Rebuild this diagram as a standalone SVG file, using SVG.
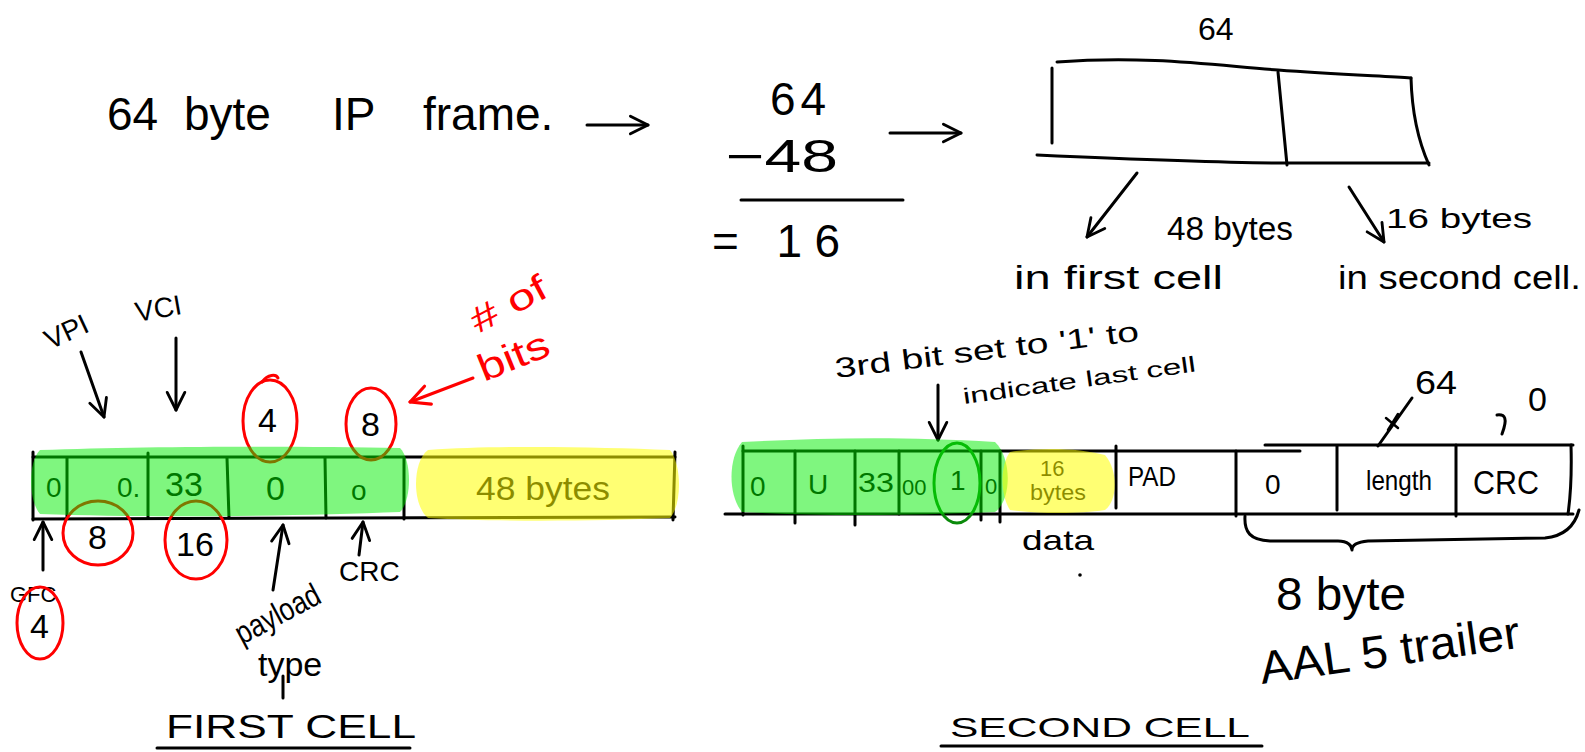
<svg xmlns="http://www.w3.org/2000/svg" width="1585" height="752" viewBox="0 0 1585 752">
<defs>
<style>
text{font-family:"Liberation Sans",Arial,sans-serif;fill:#000}
.ink{fill:none;stroke:#000;stroke-width:3;stroke-linecap:round;stroke-linejoin:round}
.thin{fill:none;stroke:#000;stroke-width:2.5;stroke-linecap:round}
.red{fill:none;stroke:#f00;stroke-width:3;stroke-linecap:round}
.redt{fill:#f00}
.grn{fill:none;stroke:#0a8a0a;stroke-width:3}
.hg{fill:#00ee00;opacity:0.5}
.hy{fill:#ffff00;opacity:0.55}
.h1{font-size:46px}
.h2{font-size:34px}
.h3{font-size:28px}
.h4{font-size:22px}
</style>
<marker id="ah" viewBox="0 0 20 20" refX="18" refY="10" markerWidth="22" markerHeight="22" orient="auto" markerUnits="userSpaceOnUse"><path d="M2,2 L18,10 L2,18" fill="none" stroke="#000" stroke-width="2.6" stroke-linecap="round" stroke-linejoin="round"/></marker>
<marker id="ahr" viewBox="0 0 20 20" refX="18" refY="10" markerWidth="24" markerHeight="24" orient="auto" markerUnits="userSpaceOnUse"><path d="M2,2 L18,10 L2,18" fill="none" stroke="#f00" stroke-width="2.6" stroke-linecap="round" stroke-linejoin="round"/></marker>
</defs>
<rect width="1585" height="752" fill="#fff"/>

<!-- Top: IP frame split -->
<g id="ip-frame">
<text class="h1" y="130"><tspan x="107">64</tspan><tspan x="184">byte</tspan><tspan x="332">IP</tspan><tspan x="423">frame.</tspan></text>
</g>
<g id="calc">
<text class="h1" x="770" y="115" textLength="56">64</text>
<text class="h1" x="726" y="172" textLength="112" lengthAdjust="spacingAndGlyphs">−48</text>
<path class="ink" d="M741,200 L903,200"/>
<text class="h1" x="712" y="257" textLength="128">= 16</text>
</g>
<g id="frame-box">
<text font-size="32" x="1198" y="40">64</text>
<path class="ink" d="M1057,62 C1150,55 1220,66 1278,70 C1330,74 1380,76 1411,78"/>
<path class="ink" d="M1052,68 L1052,143"/>
<path class="ink" d="M1037,155 C1150,160 1230,163 1286,163 L1429,163"/>
<path class="ink" d="M1278,72 L1287,165"/>
<path class="ink" d="M1411,78 C1412,115 1420,145 1429,165"/>
<text class="h2" x="1167" y="240" textLength="126" lengthAdjust="spacingAndGlyphs">48 bytes</text>
<text class="h3" x="1386" y="228" textLength="146" lengthAdjust="spacingAndGlyphs">16 bytes</text>
<text class="h2" x="1014" y="289" textLength="209" lengthAdjust="spacingAndGlyphs">in first cell</text>
<text class="h2" x="1338" y="289" textLength="243" lengthAdjust="spacingAndGlyphs">in second cell.</text>
</g>

<!-- First cell -->
<g id="first-cell">
<path class="ink" d="M33,457 L675,457"/>
<path class="ink" d="M33,519 L675,517"/>
<path class="ink" d="M33,452 L33,520"/>
<path class="ink" d="M675,452 L673,520"/>
<path class="ink" d="M67,458 L67,518"/>
<path class="ink" d="M148,453 L148,518"/>
<path class="ink" d="M227,458 L229,518"/>
<path class="ink" d="M325,458 L326,518"/>
<path class="ink" d="M404,458 L404,519"/>
<text class="h3" x="46" y="497">0</text>
<text class="h3" x="117" y="497">0.</text>
<text class="h2" x="165" y="496">33</text>
<text class="h2" x="266" y="500">0</text>
<text class="h3" x="351" y="500">o</text>
<text class="h2" x="476" y="500" textLength="134" lengthAdjust="spacingAndGlyphs">48 bytes</text>
</g>
<g id="first-labels">
<text class="h3" transform="translate(50,350) rotate(-25)">VPI</text>
<text class="h3" transform="translate(137,322) rotate(-10)">VCI</text>
<text class="h4" x="10" y="602">GFC</text>
<text font-size="32" transform="translate(242,645) rotate(-28)" textLength="92" lengthAdjust="spacingAndGlyphs">payload</text>
<text class="h2" x="258" y="676">type</text>
<path class="ink" d="M283,676 L283,698"/>
<text class="h3" x="339" y="581">CRC</text>
<text class="h2" x="166" y="738" textLength="250" lengthAdjust="spacingAndGlyphs">FIRST  CELL</text>
<path class="ink" d="M157,748 L410,748"/>
</g>
<g id="bit-counts">
<ellipse class="red" cx="270" cy="421" rx="27" ry="41"/>
<path class="red" d="M262,382 C268,374 276,374 278,378"/>
<text class="h2" x="258" y="432">4</text>
<ellipse class="red" cx="371" cy="424" rx="25" ry="36"/>
<text class="h2" x="361" y="436">8</text>
<ellipse class="red" cx="98" cy="533" rx="35" ry="32"/>
<text class="h2" x="88" y="549">8</text>
<ellipse class="red" cx="196" cy="540" rx="31" ry="39"/>
<text class="h2" x="176" y="556">16</text>
<ellipse class="red" cx="40" cy="623" rx="23" ry="36"/>
<text class="h2" x="30" y="638">4</text>
<text class="redt" font-size="36" transform="translate(478,334) rotate(-28)" textLength="82" lengthAdjust="spacingAndGlyphs">#  of</text>
<text class="redt" font-size="38" transform="translate(484,382) rotate(-22)" textLength="74" lengthAdjust="spacingAndGlyphs">bits</text>
</g>

<!-- Second cell -->
<g id="second-cell">
<path class="ink" d="M743,451 L1300,451"/>
<path class="ink" stroke-width="4" d="M1265,445 L1573,445"/>
<path class="ink" d="M725,514 L1573,514"/>
<path class="ink" d="M743,446 L743,515"/>
<path class="ink" d="M795,451 L795,523"/>
<path class="ink" d="M855,451 L855,525"/>
<path class="ink" d="M899,451 L899,514"/>
<path class="ink" d="M981,451 L981,520"/>
<path class="ink" d="M1000,451 L1000,522"/>
<path class="ink" d="M1116,446 L1116,508"/>
<path class="ink" d="M1236,451 L1236,516"/>
<path class="ink" d="M1337,446 L1337,510"/>
<path class="ink" d="M1456,445 L1456,516"/>
<path class="ink" d="M1571,445 C1572,480 1570,500 1568,514"/>
<text class="h3" x="750" y="496">0</text>
<text class="h3" x="808" y="494">U</text>
<text class="h3" x="858" y="492" textLength="36" lengthAdjust="spacingAndGlyphs">33</text>
<text class="h4" x="902" y="495">00</text>
<text class="h3" x="950" y="490">1</text>
<text class="h4" x="985" y="494">0</text>
<ellipse class="grn" cx="957" cy="483" rx="23" ry="40"/>
<text class="h4" x="1040" y="476">16</text>
<text class="h4" x="1030" y="500" textLength="56" lengthAdjust="spacingAndGlyphs">bytes</text>
<text class="h3" x="1128" y="486" textLength="48" lengthAdjust="spacingAndGlyphs">PAD</text>
<text class="h3" x="1265" y="494">0</text>
<text class="h3" x="1366" y="490" textLength="66" lengthAdjust="spacingAndGlyphs">length</text>
<text class="h2" x="1473" y="494" textLength="66" lengthAdjust="spacingAndGlyphs">CRC</text>
</g>
<g id="second-labels">
<text class="h3" transform="translate(836,378) rotate(-7)" textLength="306" lengthAdjust="spacingAndGlyphs">3rd bit set to '1' to</text>
<text class="h4" transform="translate(964,404) rotate(-8)" textLength="235" lengthAdjust="spacingAndGlyphs">indicate last cell</text>
<text class="h3" x="1022" y="550" textLength="72" lengthAdjust="spacingAndGlyphs">data</text>
<circle cx="1080" cy="575" r="1.8" fill="#000"/>
<text class="h2" x="1415" y="394" textLength="42" lengthAdjust="spacingAndGlyphs">64</text>
<path class="ink" d="M1378,446 L1412,398"/>
<path class="thin" d="M1386,418 L1398,428 M1388,430 L1398,414"/>
<path class="ink" d="M1497,415 C1505,414 1508,418 1502,434"/>
<text class="h2" x="1528" y="411">0</text>
<path class="ink" d="M1245,516 C1244,532 1250,540 1270,541 L1338,541 C1348,541 1352,546 1352,550 C1352,545 1356,542 1368,541 L1545,538 C1565,536 1575,525 1579,510"/>
<text class="h1" x="1276" y="610" textLength="130" lengthAdjust="spacingAndGlyphs">8 byte</text>
<text class="h1" transform="translate(1262,684) rotate(-8)" textLength="262" lengthAdjust="spacingAndGlyphs">AAL 5 trailer</text>
<text class="h3" x="950" y="737" textLength="300" lengthAdjust="spacingAndGlyphs">SECOND    CELL</text>
<path class="ink" d="M941,746 L1262,746"/>
</g>

<!-- Connectors -->
<g id="connectors">
<path class="ink" d="M587,125 L648,125" marker-end="url(#ah)"/>
<path class="ink" d="M890,133 L961,133" marker-end="url(#ah)"/>
<path class="ink" d="M1137,173 L1087,237" marker-end="url(#ah)"/>
<path class="ink" d="M1349,187 L1384,242" marker-end="url(#ah)"/>
<path class="ink" d="M81,352 L104,417" marker-end="url(#ah)"/>
<path class="ink" d="M176,338 L176,410" marker-end="url(#ah)"/>
<path class="red" d="M473,378 L410,402" marker-end="url(#ahr)"/>
<path class="ink" d="M43,570 L43,522" marker-end="url(#ah)"/>
<path class="ink" d="M273,590 L283,525" marker-end="url(#ah)"/>
<path class="ink" d="M359,555 L363,522" marker-end="url(#ah)"/>
<path class="ink" d="M938,385 L938,440" marker-end="url(#ah)"/>
</g>

<!-- Highlighter strokes -->
<g id="highlights">
<path class="hg" d="M40,450 C150,446 300,446 400,448 C412,460 412,500 400,512 C300,516 150,518 40,514 C28,500 28,462 40,450 Z"/>
<path class="hy" d="M428,450 C500,445 600,447 670,450 C682,465 682,505 670,518 C600,521 500,522 428,518 C412,505 412,462 428,450 Z"/>
<path class="hg" d="M742,442 C820,438 900,436 995,442 C1012,458 1012,500 995,512 C900,516 820,516 742,512 C728,495 728,458 742,442 Z"/>
<path class="hy" d="M1010,452 C1040,447 1080,448 1105,455 C1118,470 1118,500 1105,510 C1080,514 1040,514 1010,510 C1000,495 1000,465 1010,452 Z"/>
</g>
</svg>
